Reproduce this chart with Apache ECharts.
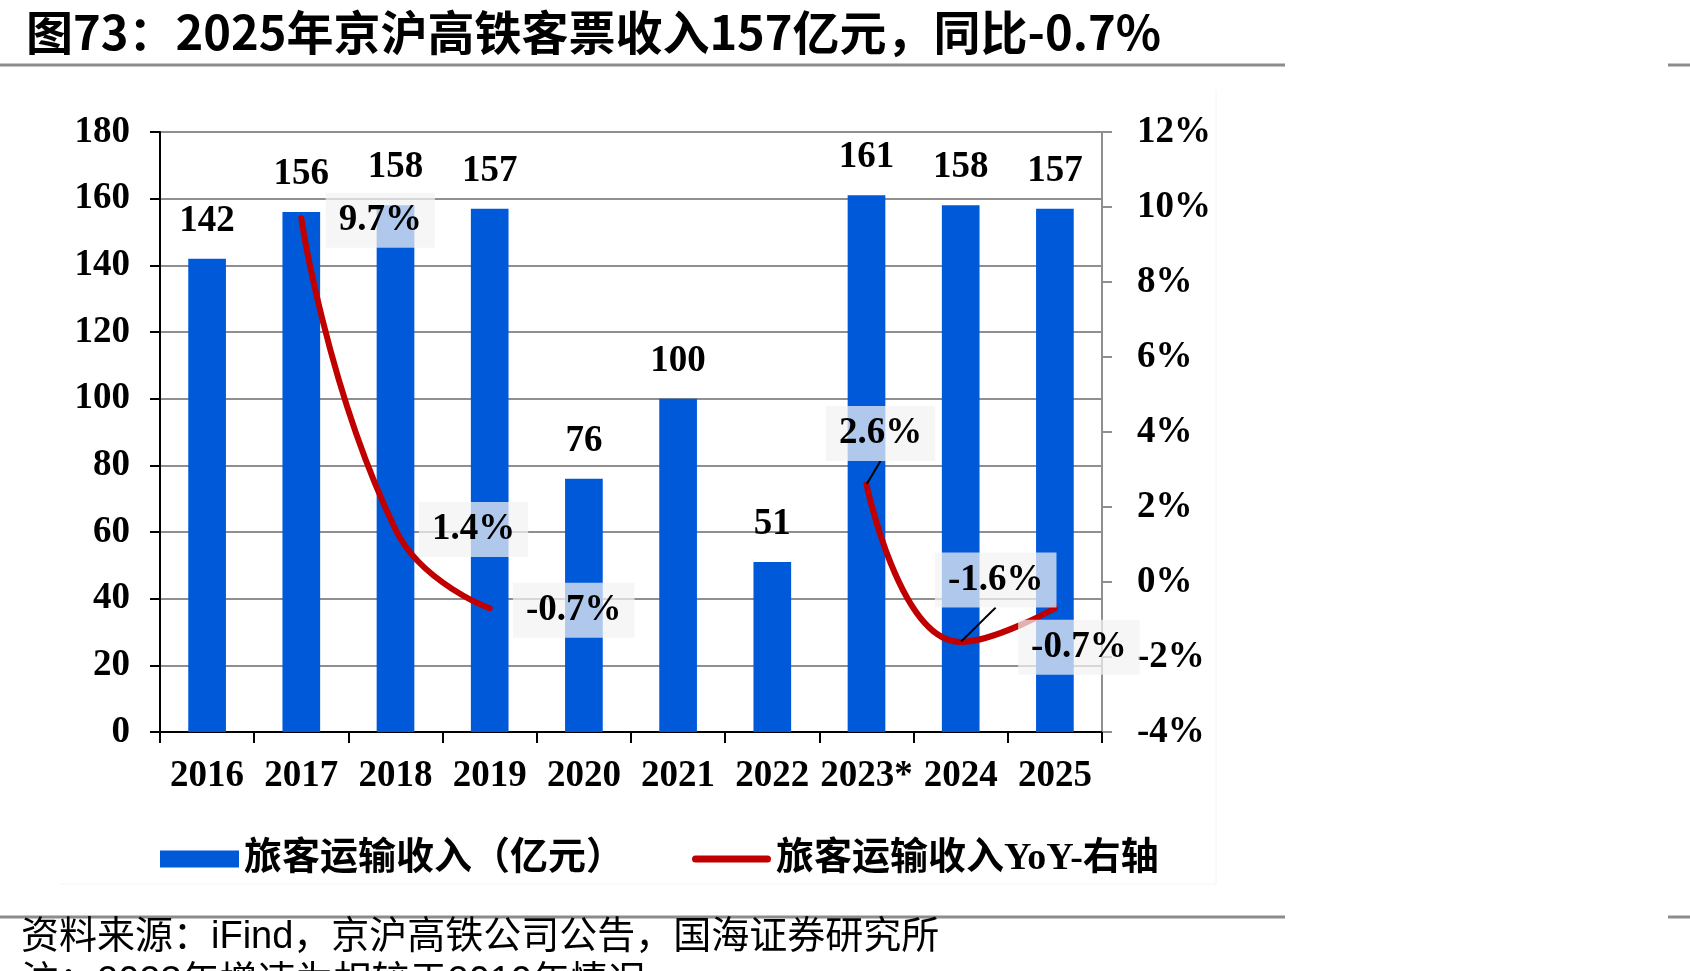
<!DOCTYPE html>
<html>
<head>
<meta charset="utf-8">
<title>京沪高铁客票收入</title>
<script src="https://cdn.jsdelivr.net/npm/echarts@6/dist/echarts.min.js"></script>
<style>
  html, body { margin: 0; padding: 0; background: #fff; }
  #chart { width: 1690px; height: 971px; }
</style>
</head>
<body>
<div id="chart"></div>
<script>
// 数据
var categories = ['2016', '2017', '2018', '2019', '2020', '2021', '2022', '2023*', '2024', '2025'];
var revenue = [142, 156, 158, 157, 76, 100, 51, 161, 158, 157];
var yoy = [null, 9.7, 1.4, -0.7, null, null, null, 2.6, -1.6, -0.7];
var leftAxis = { min: 0, max: 180, interval: 20 };
var rightAxis = { min: -4, max: 12, interval: 2 };

var serif = "'Liberation Serif', 'Times New Roman', 'Noto Sans CJK SC', serif";
var sans = "'Liberation Sans', Arial, 'Noto Sans CJK SC', sans-serif";

// 折线标签的偏移（相对数据点）
var labelOffsets = {
    1: [79, 2],
    2: [78, 0],
    3: [84, 2],
    7: [14, -51],
    8: [35, -62],
    9: [24, 39]
};

var myChart = echarts.init(document.getElementById('chart'));

var yoyData = yoy.map(function (v, i) {
    if (v === null) return null;
    var item = { value: v };
    if (i === 7 || i === 8) {
        item.labelLine = { show: true };
    }
    return item;
});

var option = {
    animation: false,
    backgroundColor: '#fff',
    title: {
        text: '图73：2025年京沪高铁客票收入157亿元，同比-0.7%',
        left: 21,
        top: 4,
        textStyle: {
            fontFamily: "'Noto Sans CJK SC', sans-serif",
            fontSize: 47,
            fontWeight: 'bold',
            color: '#000'
        }
    },
    graphic: [
        { type: 'line', shape: { x1: 0, y1: 65, x2: 1285, y2: 65 }, style: { stroke: '#8c8c8c', lineWidth: 3 } },
        { type: 'line', shape: { x1: 1668, y1: 65, x2: 1690, y2: 65 }, style: { stroke: '#8c8c8c', lineWidth: 3 } },
        { type: 'line', shape: { x1: 0, y1: 917, x2: 1285, y2: 917 }, style: { stroke: '#8c8c8c', lineWidth: 3 } },
        { type: 'line', shape: { x1: 1668, y1: 917, x2: 1690, y2: 917 }, style: { stroke: '#8c8c8c', lineWidth: 3 } },
        { type: 'polyline', z: -10, shape: { points: [[1216, 90], [1216, 884], [60, 884]] }, style: { fill: 'none', stroke: '#f4f4f4', lineWidth: 1 } },
        {
            type: 'text', left: 21, top: 919,
            style: { text: '资料来源：iFind，京沪高铁公司公告，国海证券研究所', font: "38px " + sans, fill: '#000' }
        },
        {
            type: 'text', left: 21, top: 964,
            style: { text: '注：2023年增速为相较于2019年情况', font: "38px " + sans, fill: '#000' }
        }
    ],
    legend: {
        left: 155,
        top: 835,
        itemWidth: 79,
        itemHeight: 17,
        itemGap: 68,
        textStyle: {
            fontFamily: serif,
            fontSize: 38,
            fontWeight: 'bold',
            color: '#000'
        },
        data: [
            { name: '旅客运输收入（亿元）', icon: 'rect' },
            { name: '旅客运输收入YoY-右轴', icon: 'path://M3.5,0 L75.5,0 A3.5,3.5 0 0 1 75.5,7 L3.5,7 A3.5,3.5 0 0 1 3.5,0 Z' }
        ]
    },
    grid: {
        left: 160,
        right: 588,
        top: 132,
        bottom: 239,
        containLabel: false
    },
    xAxis: {
        type: 'category',
        data: categories,
        axisLine: { lineStyle: { color: '#000', width: 2 } },
        axisTick: { show: true, length: 11, lineStyle: { color: '#000', width: 2 } },
        axisLabel: {
            margin: 26,
            interval: 0,
            fontFamily: serif,
            fontSize: 37,
            fontWeight: 'bold',
            color: '#000'
        }
    },
    yAxis: [
        {
            type: 'value',
            min: leftAxis.min,
            max: leftAxis.max,
            interval: leftAxis.interval,
            axisLine: { show: true, lineStyle: { color: '#000', width: 2 } },
            axisTick: { show: true, length: 10, lineStyle: { color: '#000', width: 2 } },
            axisLabel: {
                margin: 30,
                fontFamily: serif,
                fontSize: 37,
                fontWeight: 'bold',
                color: '#000'
            },
            splitLine: { lineStyle: { color: '#8f8f8f', width: 2 } }
        },
        {
            type: 'value',
            min: rightAxis.min,
            max: rightAxis.max,
            interval: rightAxis.interval,
            position: 'right',
            axisLine: { show: true, lineStyle: { color: '#8f8f8f', width: 2 } },
            axisTick: { show: true, length: 10, lineStyle: { color: '#8f8f8f', width: 2 } },
            axisLabel: {
                margin: 35,
                formatter: '{value}%',
                fontFamily: serif,
                fontSize: 37,
                fontWeight: 'bold',
                color: '#000'
            },
            splitLine: { show: false }
        }
    ],
    series: [
        {
            name: '旅客运输收入（亿元）',
            type: 'bar',
            data: revenue,
            barWidth: '40%',
            itemStyle: { color: '#0059D9' },
            label: {
                show: true,
                position: 'top',
                distance: 19,
                fontFamily: serif,
                fontSize: 37,
                fontWeight: 'bold',
                color: '#000'
            }
        },
        {
            name: '旅客运输收入YoY-右轴',
            type: 'line',
            yAxisIndex: 1,
            data: yoyData,
            smooth: 0.5,
            connectNulls: false,
            symbol: 'circle',
            symbolSize: 1,
            showSymbol: true,
            itemStyle: { color: '#C00000' },
            lineStyle: { color: '#C00000', width: 6, cap: 'round' },
            label: {
                show: true,
                position: 'inside',
                formatter: '{c}%',
                fontFamily: serif,
                fontSize: 37,
                fontWeight: 'bold',
                color: '#000',
                backgroundColor: 'rgba(242,242,242,0.72)',
                padding: [9, 13, 9, 13]
            },
            labelLine: {
                show: false,
                lineStyle: { color: '#000', width: 2 }
            },
            labelLayout: function (params) {
                var off = labelOffsets[params.dataIndex] || [0, 0];
                return { dx: off[0], dy: off[1] };
            }
        }
    ]
};

myChart.setOption(option);
window.addEventListener('resize', function () {
    myChart.resize();
});
</script>
</body>
</html>
